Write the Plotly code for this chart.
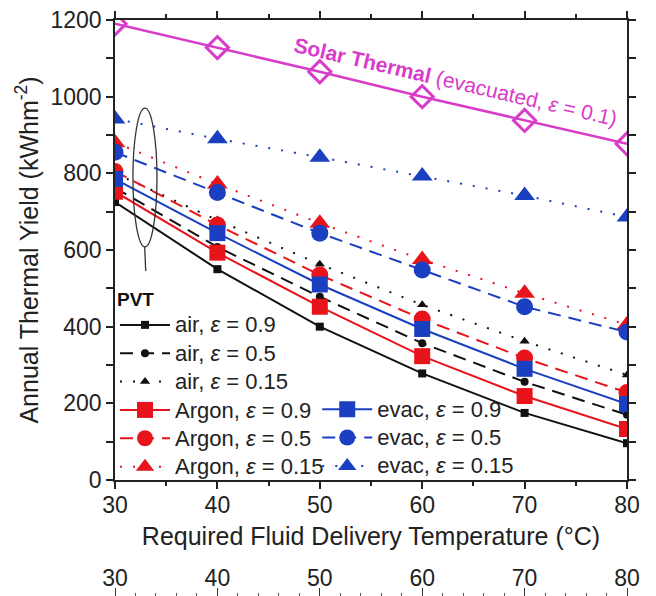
import plotly.graph_objects as go

temps = [30, 40, 50, 60, 70, 80]
air_09 = [725, 550, 400, 278, 175, 96]
air_05 = [762, 608, 478, 357, 256, 170]
air_015 = [800, 678, 563, 457, 362, 274]
argon_09 = [752, 593, 452, 323, 219, 133]
argon_05 = [805, 665, 535, 420, 318, 228]
argon_015 = [880, 772, 670, 575, 487, 405]
evac_09 = [785, 644, 510, 394, 290, 198]
evac_05 = [855, 750, 644, 548, 452, 386]
evac_015 = [942, 890, 842, 793, 742, 686]
solar = [1190, 1128, 1065, 1000, 938, 877]

BLACK = "#111111"
RED = "#e8141c"
BLUE = "#1a3fc0"
MAG = "#d83cc8"
FONT = "Liberation Sans, Arial, sans-serif"

DASH = {"0.9": "solid", "0.5": "13px,8px", "0.15": "2px,11px"}
SYM = {"0.9": "square", "0.5": "circle", "0.15": "triangle-up"}

fig = go.Figure()

def add(name, y, color, eps, size, legend):
    fig.add_trace(go.Scatter(
        x=temps, y=y, mode="lines+markers",
        name=f'<span style="font-size:22px">{name}, <i>ε</i> = {eps}</span>',
        line=dict(color=color, width=2, dash=DASH[eps]),
        marker=dict(symbol=SYM[eps], size=size, color=color),
        legend=legend,
    ))

add("air", air_09, BLACK, "0.9", 8, "legend")
add("air", air_05, BLACK, "0.5", 8, "legend")
add("air", air_015, BLACK, "0.15", 9, "legend")
add("Argon", argon_09, RED, "0.9", 16, "legend")
add("Argon", argon_05, RED, "0.5", 17, "legend")
add("Argon", argon_015, RED, "0.15", 18, "legend")
add("evac", evac_09, BLUE, "0.9", 16, "legend2")
add("evac", evac_05, BLUE, "0.5", 17, "legend2")
add("evac", evac_015, BLUE, "0.15", 18, "legend2")

fig.add_trace(go.Scatter(
    x=temps, y=solar, mode="lines+markers", showlegend=False,
    line=dict(color=MAG, width=2.5),
    marker=dict(symbol="diamond-open", size=17, color=MAG, line=dict(width=3, color=MAG)),
))

# dummy trace for second (bottom) axis
fig.add_trace(go.Scatter(x=temps, y=[None] * len(temps), xaxis="x2", showlegend=False,
                         hoverinfo="skip"))

H = 596
T = 20
PH = H - T
domain_start = (H - 480) / PH

def py(p):
    return (H - p) / PH

fig.update_layout(
    width=656, height=596,
    margin=dict(l=115, r=29, t=T, b=0, autoexpand=False),
    paper_bgcolor="white", plot_bgcolor="white",
    font=dict(family=FONT, color="#222222", size=20),
    xaxis=dict(
        range=[30, 80], tickvals=temps, ticks="outside", ticklen=7, tickwidth=1.5,
        showline=True, linecolor="#222", linewidth=1.5, mirror="allticks",
        showgrid=False, zeroline=False, automargin=False,
        minor=dict(dtick=5, tick0=30, ticks="outside", ticklen=4, tickwidth=1.5, tickcolor="#222"),
        tickfont=dict(size=23), tickcolor="#222", ticklabelstandoff=-3,
        title=dict(text="Required Fluid Delivery Temperature (°C)", font=dict(size=25), standoff=10),
        anchor="y",
    ),
    xaxis2=dict(
        range=[30, 80], tickvals=temps, overlaying="x", anchor="free", position=0,
        side="top", ticks="outside", ticklen=8, tickwidth=1.2, tickcolor="#333",
        showline=False, showgrid=False, zeroline=False, automargin=False,
        minor=dict(dtick=2, tick0=30, ticks="outside", ticklen=3, tickwidth=1.2, tickcolor="#555"),
        tickfont=dict(size=23), ticklabelstandoff=-7,
    ),
    yaxis=dict(
        domain=[domain_start, 1], range=[0, 1200], dtick=200, ticks="outside",
        ticklen=7, tickwidth=1.5, tickcolor="#222",
        showline=True, linecolor="#222", linewidth=1.5, mirror="allticks",
        showgrid=False, zeroline=False, automargin=False,
        minor=dict(dtick=100, ticks="outside", ticklen=4, tickwidth=1.5, tickcolor="#222"),
        tickfont=dict(size=23),
        title=dict(text="Annual Thermal Yield (kWhm<sup>-2</sup>)", font=dict(size=25), standoff=5),
    ),
    legend=dict(
        x=0.0, y=py(281), xanchor="left", yanchor="top",
        bgcolor="rgba(0,0,0,0)", font=dict(size=19.5, color="#222"),
        title=dict(text="<b>PVT</b>", font=dict(size=19, color="#111")),
        itemwidth=50, tracegroupgap=0,
    ),
    legend2=dict(
        x=0.395, y=py(390), xanchor="left", yanchor="top",
        bgcolor="rgba(0,0,0,0)", font=dict(size=19.5, color="#222"),
        itemwidth=50, tracegroupgap=0,
    ),
)

# PVT ellipse with pointer
fig.add_shape(type="circle", xref="x", yref="y", x0=31.75, x1=34.1, y0=608, y1=970,
              line=dict(color="#333", width=1.3))
fig.add_shape(type="line", xref="x", yref="y", x0=32.9, x1=33.0, y0=608, y1=545,
              line=dict(color="#333", width=1.3))

fig.add_annotation(
    x=(455 - 115) / 512, y=py(82), xref="paper", yref="paper",
    xanchor="center", yanchor="middle",
    text="<b>Solar Thermal</b> (evacuated, <i>ε</i> = 0.1)",
    showarrow=False, textangle=13, font=dict(size=21, color=MAG),
)

fig.write_html("out.html")
